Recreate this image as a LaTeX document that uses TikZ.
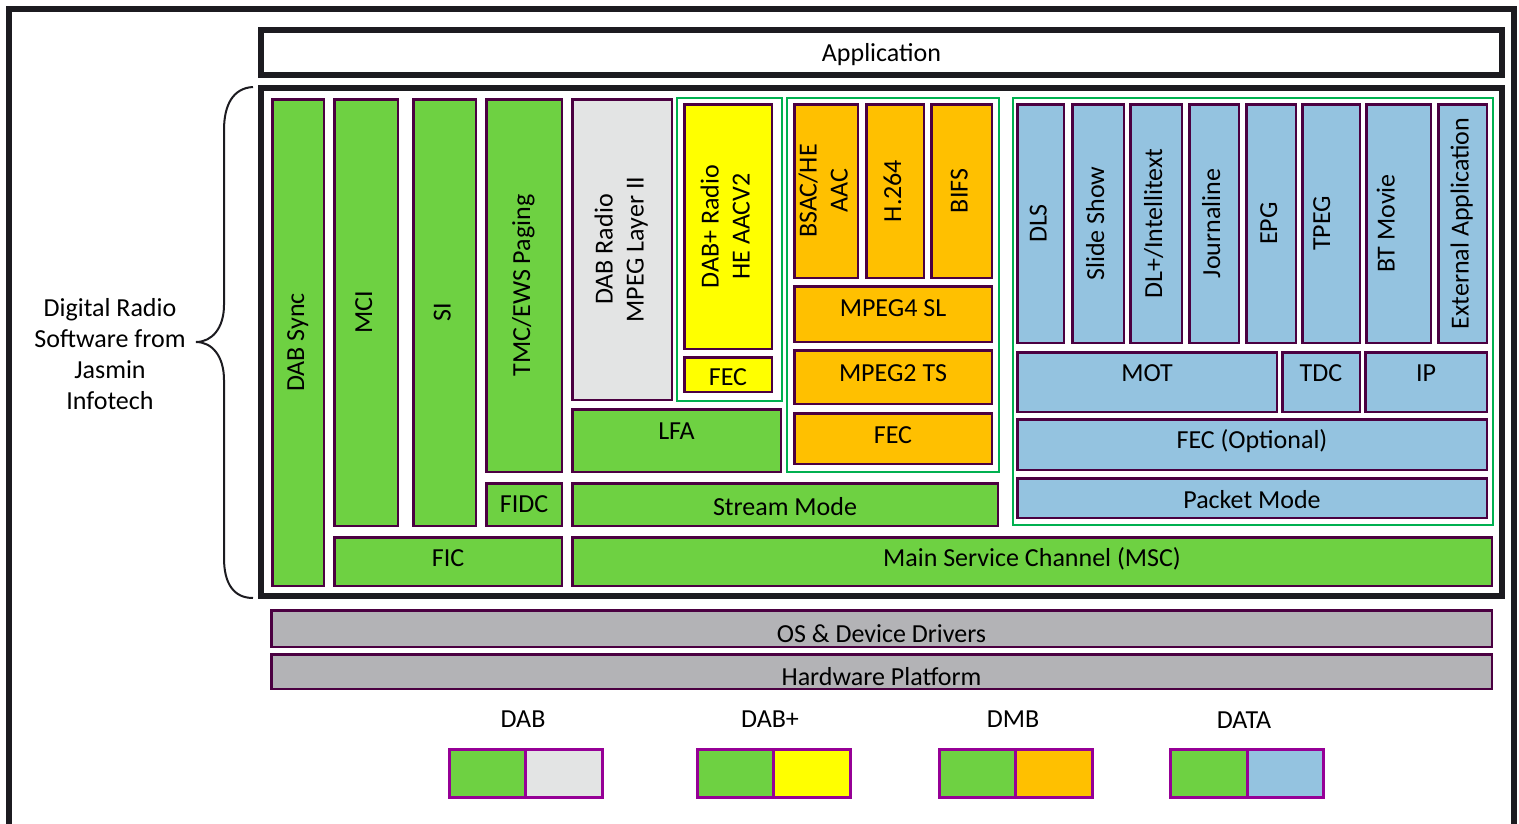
\documentclass[tikz,border=0pt]{standalone}
\usepackage{fontspec}
\setmainfont{Carlito}
\usepackage{graphicx}
\definecolor{bgreen}{RGB}{110,209,66}
\definecolor{bgrey}{RGB}{227,228,228}
\definecolor{byellow}{RGB}{255,255,0}
\definecolor{borange}{RGB}{255,192,0}
\definecolor{bblue}{RGB}{148,195,224}
\definecolor{hwgrey}{RGB}{179,179,182}
\definecolor{bpurple}{RGB}{75,0,65}
\definecolor{ggreen}{RGB}{0,176,80}
\definecolor{lpurple}{RGB}{150,0,150}
\definecolor{framec}{RGB}{28,27,32}
\newcommand\lblfont{\fontsize{26}{31}\selectfont}
\newcommand\vt[1]{\rotatebox{90}{\begin{tabular}{@{}c@{}}#1\end{tabular}}}
\tikzset{
  blk/.style={draw=bpurple, line width=2.5pt, inner sep=0pt, outer sep=0pt},
  lbl/.style={font=\lblfont, text=black, inner sep=0pt, align=center},
  grp/.style={draw=ggreen, line width=2pt},
  frm/.style={draw=framec, line width=6pt},
  leg/.style={draw=lpurple, line width=3pt, inner sep=0pt},
}
% #1 style, #2 name, #3 x1, #4 y1, #5 x2, #6 y2, #7 text, #8 dx, #9 dy
\newcommand\blk[9][]{%
  \node[blk,#1,minimum width={#5pt-#3pt-2.5pt},minimum height={#6pt-#4pt-2.5pt}] (#2) at ({(#3+#5)/2},{(#4+#6)/2}) {};
  \node[lbl] (#2-t) at ([xshift=#8pt,yshift=#9pt]#2.center) {#7};}
\begin{document}
\begin{tikzpicture}[x=1pt,y=-1pt]
\clip (0,0) rectangle (1519,823);
\fill[white] (0,0) rectangle (1519,823);
% outer frame
\draw[frm] (9,840) -- (9,9) -- (1514,9) -- (1514,840);
% application
\node[frm, minimum width=1241pt, minimum height=45pt, inner sep=0pt] (app) at (881.5,52.5) {};
\node[lbl] (app-t) at ([yshift=-2pt]app.center) {Application};
% main box
\node[frm, minimum width=1241pt, minimum height=508pt, inner sep=0pt] (main) at (881.5,342) {};
% brace
\draw[line width=2pt, framec] (253,87) .. controls (233,88) and (224,105) .. (224,130) -- (224,305)
  .. controls (224,328) and (212,342) .. (196,342)
  .. controls (212,342) and (224,356) .. (224,380) -- (224,558)
  .. controls (224,584) and (234,598) .. (253,598);
\node[lbl] (side) at (110,354) {Digital Radio\\Software from\\Jasmin\\Infotech};
% groups
\draw[grp] (677,98) rectangle (782,401);
\draw[grp] (787,98) rectangle (999,472);
\draw[grp] (1013,98) rectangle (1493,525);
% DAB
\blk[fill=bgreen]{dabsync}{271}{98}{325}{587}{\vt{DAB Sync}}{0}{0}
\blk[fill=bgreen]{mci}{333}{98}{399}{527}{\vt{MCI}}{0}{0}
\blk[fill=bgreen]{si}{412}{98}{477}{527}{\vt{SI}}{0}{0}
\blk[fill=bgreen]{tmc}{485}{98}{563}{473}{\vt{TMC/EWS Paging}}{0}{0}
\blk[fill=bgreen]{fidc}{485}{482}{563}{527}{FIDC}{0}{0}
\blk[fill=bgreen]{fic}{333}{536}{563}{587}{FIC}{0}{3}
\blk[fill=bgrey]{dabradio}{571}{98}{673}{401}{\vt{DAB Radio\\MPEG Layer II}}{0}{0}
\blk[fill=byellow]{dabplus}{683}{103}{773}{350}{\vt{DAB+ Radio\\HE AACV2}}{0}{0}
\blk[fill=byellow]{fecy}{683}{356}{773}{393}{FEC}{0}{-3}
\blk[fill=bgreen]{lfa}{571}{408}{782}{473}{LFA}{0}{9}
\blk[fill=bgreen]{stream}{571}{482}{999}{527}{Stream Mode}{0}{-2}
\blk[fill=bgreen]{msc}{571}{536}{1493}{587}{Main Service Channel (MSC)}{0}{3}
% DMB
\blk[fill=borange]{bsac}{793}{103}{859}{279}{\vt{BSAC/HE\\AAC}}{0}{0}
\blk[fill=borange]{h264}{865}{103}{925}{279}{\vt{H.264}}{0}{0}
\blk[fill=borange]{bifs}{930}{103}{993}{279}{\vt{BIFS}}{0}{0}
\blk[fill=borange]{mpeg4}{793}{285}{993}{343}{MPEG4 SL}{0}{6}
\blk[fill=borange]{mpeg2}{793}{349}{993}{405}{MPEG2 TS}{0}{4}
\blk[fill=borange]{feco}{793}{412}{993}{465}{FEC}{0}{3}
% DATA
\blk[fill=bblue]{dls}{1016}{103}{1065}{344}{\vt{DLS}}{0}{0}
\blk[fill=bblue]{slide}{1071}{103}{1125}{344}{\vt{Slide Show}}{0}{0}
\blk[fill=bblue]{dlplus}{1129}{103}{1183}{344}{\vt{DL+/Intellitext}}{0}{0}
\blk[fill=bblue]{journal}{1188}{103}{1240}{344}{\vt{Journaline}}{0}{0}
\blk[fill=bblue]{epg}{1245}{103}{1297}{344}{\vt{EPG}}{0}{0}
\blk[fill=bblue]{tpeg}{1301}{103}{1361}{344}{\vt{TPEG}}{-7}{0}
\blk[fill=bblue]{btmovie}{1365}{103}{1432}{344}{\vt{BT Movie}}{-10}{0}
\blk[fill=bblue]{extapp}{1437}{103}{1488}{344}{\vt{External Application}}{0}{0}
\blk[fill=bblue]{mot}{1016}{351}{1278}{413}{MOT}{0}{9}
\blk[fill=bblue]{tdc}{1281}{351}{1361}{413}{TDC}{0}{9}
\blk[fill=bblue]{ip}{1364}{351}{1488}{413}{IP}{0}{9}
\blk[fill=bblue]{fecopt}{1016}{418}{1488}{471}{FEC (Optional)}{0}{3}
\blk[fill=bblue]{packet}{1016}{477}{1488}{519}{Packet Mode}{0}{-2}
% OS / HW
\blk[fill=hwgrey]{os}{270}{609}{1493}{648}{OS \& Device Drivers}{0}{-5}
\blk[fill=hwgrey]{hw}{270}{653}{1493}{690}{Hardware Platform}{0}{-5}
% legend
\node[lbl] (l1) at (523,719) {DAB};
\node[lbl] (l2) at (770,719) {DAB+};
\node[lbl] (l3) at (1013,719) {DMB};
\node[lbl] (l4) at (1244,720) {DATA};
\node[leg, fill=bgreen, minimum width=76pt, minimum height=48pt] (l1a) at (487,773.5) {};
\node[leg, fill=bgrey, minimum width=77pt, minimum height=48pt] (l1b) at (563.5,773.5) {};
\node[leg, fill=bgreen, minimum width=76pt, minimum height=48pt] (l2a) at (735,773.5) {};
\node[leg, fill=byellow, minimum width=77pt, minimum height=48pt] (l2b) at (811.5,773.5) {};
\node[leg, fill=bgreen, minimum width=76pt, minimum height=48pt] (l3a) at (977,773.5) {};
\node[leg, fill=borange, minimum width=77pt, minimum height=48pt] (l3b) at (1053.5,773.5) {};
\node[leg, fill=bgreen, minimum width=77pt, minimum height=48pt] (l4a) at (1208.5,773.5) {};
\node[leg, fill=bblue, minimum width=76pt, minimum height=48pt] (l4b) at (1285,773.5) {};
\end{tikzpicture}
\end{document}
